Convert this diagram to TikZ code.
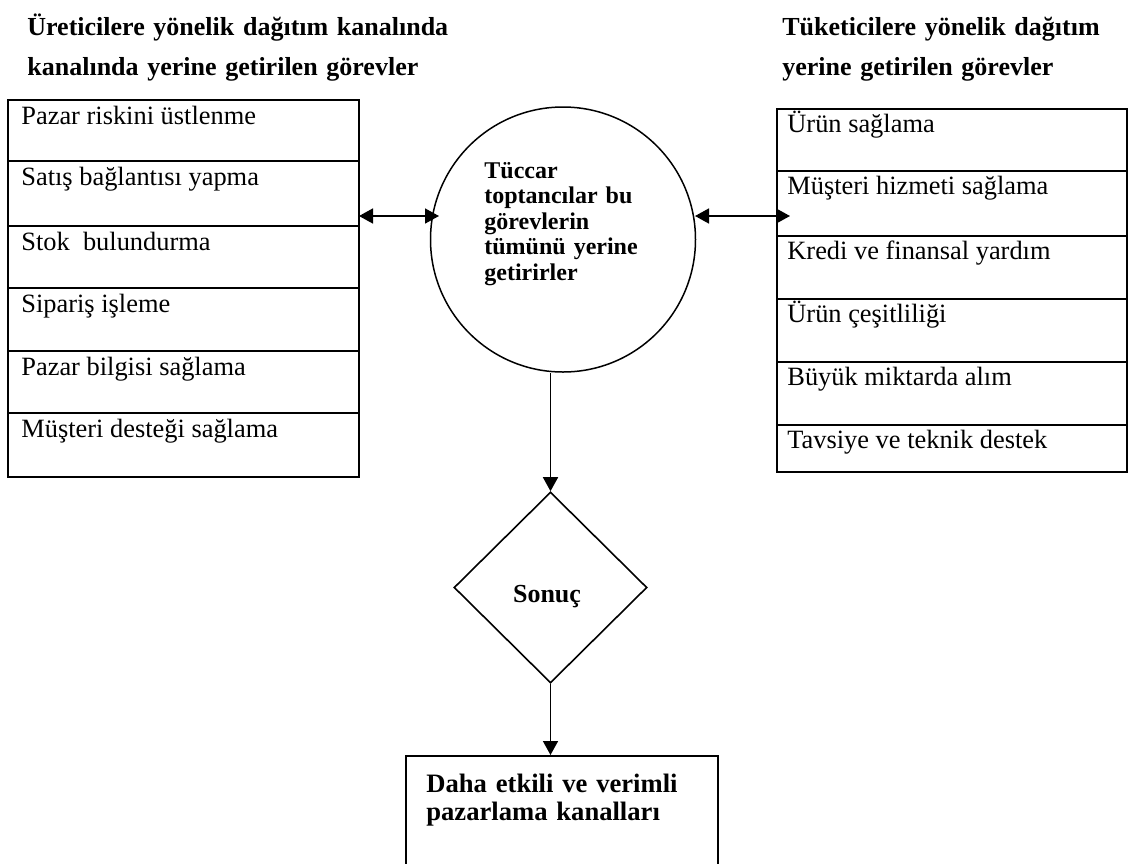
\documentclass[tikz,border=0pt]{standalone}
\usepackage{fontspec}
\setmainfont{Liberation Serif}
\usetikzlibrary{arrows.meta,shapes.geometric,fit,calc}

\begin{document}
\begin{tikzpicture}[x=0.5pt,y=-0.5pt,
  cell/.style={draw,line width=1pt,inner sep=0pt},
  celltext/.style={anchor=base west,inner sep=0pt,font=\fontsize{13.2}{15}\selectfont},
  heading/.style={anchor=base west,inner sep=0pt,align=left,text width=240pt,
    font=\bfseries\fontsize{13}{20}\selectfont},
  tip/.style={Triangle[length=7pt,width=7.5pt]},
  link/.style={line width=0.8pt,{Triangle[length=7pt,width=7.5pt]}-{Triangle[length=7pt,width=7.5pt]}},
  flow/.style={line width=0.8pt,-{Triangle[length=7pt,width=7.5pt]}},
]
\useasboundingbox (0,0) rectangle (1131,863);

% headings
\node[heading] (hl) at (27,35) {Üreticilere yönelik dağıtım kanalında\\kanalında yerine getirilen görevler};
\node[heading] (hr) at (782,35) {Tüketicilere yönelik dağıtım\\yerine getirilen görevler};

% producer-side tasks
\foreach \ya/\yb/\txt [count=\i] in {
  100/161/Pazar riskini üstlenme,
  161/226/Satış bağlantısı yapma,
  226/288/Stok~~bulundurma,
  288/351/Sipariş işleme,
  351/413/Pazar bilgisi sağlama,
  413/477/Müşteri desteği sağlama}{
  \node[cell,fit={(8,\ya) (359,\yb)}] (l\i) {};
  \node[celltext] (lt\i) at ($(l\i.north west)+(14,25)$) {\txt};
}

% consumer-side tasks
\foreach \ya/\yb/\txt [count=\i] in {
  109/171/Ürün sağlama,
  171/236/Müşteri hizmeti sağlama,
  236/299/Kredi ve finansal yardım,
  299/362/Ürün çeşitliliği,
  362/425/Büyük miktarda alım,
  425/472/Tavsiye ve teknik destek}{
  \node[cell,fit={(777,\ya) (1127,\yb)}] (r\i) {};
  \node[celltext] (rt\i) at ($(r\i.north west)+(11,24)$) {\txt};
}

% central circle
\node[draw,circle,line width=0.75pt,minimum size=132.5pt,inner sep=0pt] (circ) at (563,239.5) {};
\node[anchor=base west,inner sep=0pt,align=left,text width=80pt,
  font=\bfseries\fontsize{12}{12.75}\selectfont] (ct) at (484,178)
  {Tüccar\\toptancılar bu\\görevlerin\\tümünü yerine\\getirirler};

% result diamond
\node[draw,diamond,line width=0.8pt,inner sep=0pt,minimum width=96.5pt,minimum height=95.5pt] (dia) at (550.5,587.5) {};
\node[anchor=base,inner sep=0pt,font=\bfseries\fontsize{13}{15}\selectfont] (sonuc) at (547,602) {Sonuç};

% outcome box (runs past the lower edge)
\node[cell,fit={(406,756) (718,880)}] (out) {};
\node[anchor=base west,inner sep=0pt,align=left,text width=150pt,
  font=\bfseries\fontsize{13.3}{14}\selectfont] (outt) at (426,792)
  {Daha etkili ve verimli\\pazarlama kanalları};

% connectors
\coordinate (la) at (359,216);
\coordinate (lb) at (439,216);
\coordinate (ra) at (695,216);
\coordinate (rb) at (790,216);
\draw[link] (la) -- (lb);
\draw[link] (ra) -- (rb);
\draw[flow] (dia.north |- circ.south) -- (dia.north);
\draw[flow] (dia.south) -- (dia.south |- out.north);
\end{tikzpicture}
\end{document}
